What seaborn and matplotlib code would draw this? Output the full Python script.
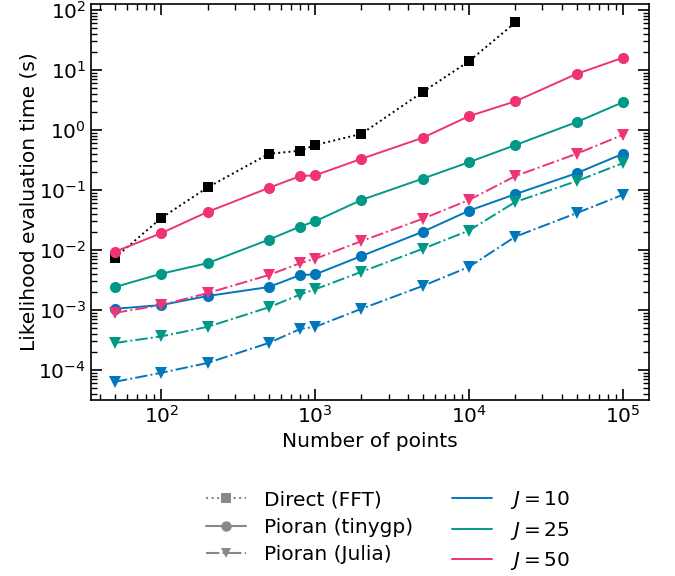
import numpy as np
import pandas as pd
import seaborn as sns
import matplotlib
matplotlib.use("Agg")
import matplotlib.pyplot as plt
from matplotlib.lines import Line2D

# ---- data ----
n_points = [50, 100, 200, 500, 800, 1000, 2000, 5000, 10000, 20000, 50000, 100000]
n_direct = [50, 100, 200, 500, 800, 1000, 2000, 5000, 10000, 20000]

direct_fft = [0.0074, 0.034, 0.11, 0.40, 0.45, 0.56, 0.86, 4.3, 14.0, 62.0]

tinygp_J10 = [0.00104, 0.0012, 0.0017, 0.0024, 0.0038, 0.0039, 0.0079, 0.020, 0.045, 0.085, 0.19, 0.40]
tinygp_J25 = [0.0024, 0.0040, 0.0060, 0.0148, 0.0245, 0.030, 0.068, 0.154, 0.29, 0.56, 1.35, 2.9]
tinygp_J50 = [0.0093, 0.019, 0.043, 0.108, 0.17, 0.175, 0.33, 0.74, 1.7, 3.0, 8.6, 16.0]

julia_J10 = [0.000063, 0.000089, 0.00013, 0.00028, 0.00048, 0.00052, 0.00104, 0.0025, 0.0052, 0.0166, 0.041, 0.083]
julia_J25 = [0.00028, 0.00036, 0.00052, 0.0011, 0.0018, 0.0022, 0.0043, 0.0104, 0.021, 0.063, 0.14, 0.28]
julia_J50 = [0.00089, 0.0012, 0.0019, 0.0038, 0.0060, 0.0071, 0.014, 0.033, 0.068, 0.17, 0.40, 0.83]

J_labels = ["$J = 10$", "$J = 25$", "$J = 50$"]
method_labels = ["Direct (FFT)", "Pioran (tinygp)", "Pioran (Julia)"]
colors = {"10": "#0077BB", "25": "#009988", "50": "#EE3377"}

# ---- plot ----
sns.set_style("ticks", {"axes.edgecolor": "black", "text.color": "black",
                        "axes.labelcolor": "black", "xtick.color": "black",
                        "ytick.color": "black"})
plt.rcParams["font.family"] = ["DejaVu Sans"]
plt.rcParams["mathtext.fontset"] = "dejavusans"

fig = plt.figure(figsize=(6.75, 5.76), dpi=100)
ax = fig.add_axes([0.135, 0.306, 0.826, 0.687])

def draw(x, y, color, ls, marker, ms):
    df = pd.DataFrame({"x": x, "y": y})
    sns.lineplot(data=df, x="x", y="y", ax=ax, color=color, linestyle=ls,
                 marker=marker, markersize=ms, markeredgewidth=0, linewidth=1.4,
                 legend=False)

draw(n_direct, direct_fft, "black", ":", "s", 7.5)
for J, tg, jl in [("10", tinygp_J10, julia_J10), ("25", tinygp_J25, julia_J25),
                  ("50", tinygp_J50, julia_J50)]:
    draw(n_points, tg, colors[J], "-", "o", 8)
    draw(n_points, jl, colors[J], "-.", "v", 8)

ax.set_xscale("log")
ax.set_yscale("log")
ax.set_xlim(35, 147000)
ax.set_ylim(10**-4.5, 10**2.1)
ax.set_xlabel("Number of points", fontsize=14.5)
ax.set_ylabel("Likelihood evaluation time (s)", fontsize=14.5, labelpad=0)
ax.yaxis.set_major_locator(matplotlib.ticker.LogLocator(base=10, numticks=20))
ax.yaxis.set_minor_locator(matplotlib.ticker.LogLocator(base=10, subs=np.arange(2, 10), numticks=20))
ax.tick_params(which="both", direction="in", top=True, right=True, labelsize=14.5,
               colors="black")
ax.tick_params(which="major", length=8, width=1.2)
ax.tick_params(which="minor", length=4, width=1)
for s in ax.spines.values():
    s.set_linewidth(1.2)
    s.set_color("black")

gray = "#888888"
handles = [
    Line2D([], [], color=gray, ls=":", marker="s", ms=7.5, mew=0),
    Line2D([], [], color=gray, ls="-", marker="o", ms=7.5, mew=0),
    Line2D([], [], color=gray, ls="-.", marker="v", ms=7.5, mew=0),
    Line2D([], [], color=colors["10"], lw=1.4),
    Line2D([], [], color=colors["25"], lw=1.4),
    Line2D([], [], color=colors["50"], lw=1.4),
]
labels = method_labels + J_labels
fig.legend(handles, labels, ncol=2, frameon=False, fontsize=14.5,
           loc="upper center", bbox_to_anchor=(0.575, 0.182),
           columnspacing=1.9, handlelength=2.0, handletextpad=0.9,
           labelspacing=0.42)

fig.savefig("out.png", dpi=100)
